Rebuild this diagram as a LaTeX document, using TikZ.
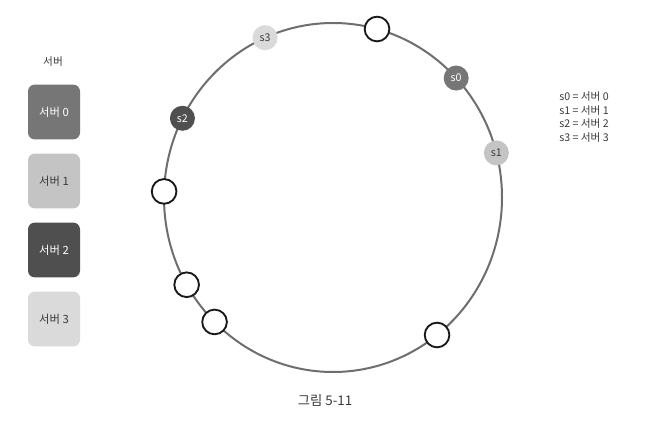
\documentclass[tikz,border=0pt]{standalone}
\usepackage{fontspec}
\newfontfamily\kor{Noto Sans CJK KR}
\definecolor{ringgray}{HTML}{6E6E6E}
\definecolor{srvA}{HTML}{767676}
\definecolor{srvB}{HTML}{C4C4C4}
\definecolor{srvC}{HTML}{4F4F4F}
\definecolor{srvD}{HTML}{DADADA}
\definecolor{txtgray}{HTML}{3A3A3A}

\begin{document}
\begin{tikzpicture}[x=.75pt,y=.75pt,
	srv/.style={circle,minimum size=18.75pt,inner sep=0pt,font=\kor\fontsize{8}{8}\selectfont},
	key/.style={circle,draw=black!90,line width=1.4pt,fill=white,minimum size=18.5pt,inner sep=0pt},
	box/.style={rounded corners=5pt,minimum width=39pt,minimum height=41pt,inner sep=0pt,font=\kor\fontsize{8.5}{8.5}\selectfont},
	lbl/.style={font=\kor\fontsize{8}{10.3}\selectfont,text=txtgray}]
		\useasboundingbox[fill=white] (0,0) rectangle (653,421);
		\draw[ringgray,line width=1.5pt] (333,223.5) ellipse [x radius=169,y radius=174.5];
		
		\node[srv,fill=srvA,text=white] (s0) at ({333+169*cos(43.2)},{223.5+174.5*sin(43.2)}) {s0};
		\node[srv,fill=srvB,text=txtgray] (s1) at ({333+169*cos(14.8)},{223.5+174.5*sin(14.8)}) {s1};
		\node[srv,fill=srvC,text=white] (s2) at ({333+169*cos(153)},{223.5+174.5*sin(153)}) {s2};
		\node[srv,fill=srvD,text=txtgray] (s3) at ({333+169*cos(113.7)},{223.5+174.5*sin(113.7)}) {s3};
		
		\node[key] (k1) at ({333+169*cos(74.9)},{223.5+174.5*sin(74.9)}) {};
		\node[key] (k2) at ({333+169*cos(178)},{223.5+174.5*sin(178)}) {};
		\node[key] (k3) at ({333+169*cos(210)},{223.5+174.5*sin(210)}) {};
		\node[key] (k4) at ({333+169*cos(225.5)},{223.5+174.5*sin(225.5)}) {};
		\node[key] (k5) at ({333+169*cos(308)},{223.5+174.5*sin(308)}) {};
		
		\node[lbl] (title) at (53,359) {서버};
		\node[box,fill=srvA,text=white] (b0) at (54,309) {서버 0};
		\node[box,fill=srvB,text=txtgray] (b1) at (54,240) {서버 1};
		\node[box,fill=srvC,text=white] (b2) at (54,171) {서버 2};
		\node[box,fill=srvD,text=txtgray] (b3) at (54,102) {서버 3};
		
		\node[lbl,align=left,anchor=west,inner sep=0pt] (legend) at (559,304) {s0 = 서버 0\\s1 = 서버 1\\s2 = 서버 2\\s3 = 서버 3};
		\node[font=\kor\fontsize{10}{10}\selectfont,text=txtgray] (caption) at (325,21) {그림 5-11};
\end{tikzpicture}
\end{document}
